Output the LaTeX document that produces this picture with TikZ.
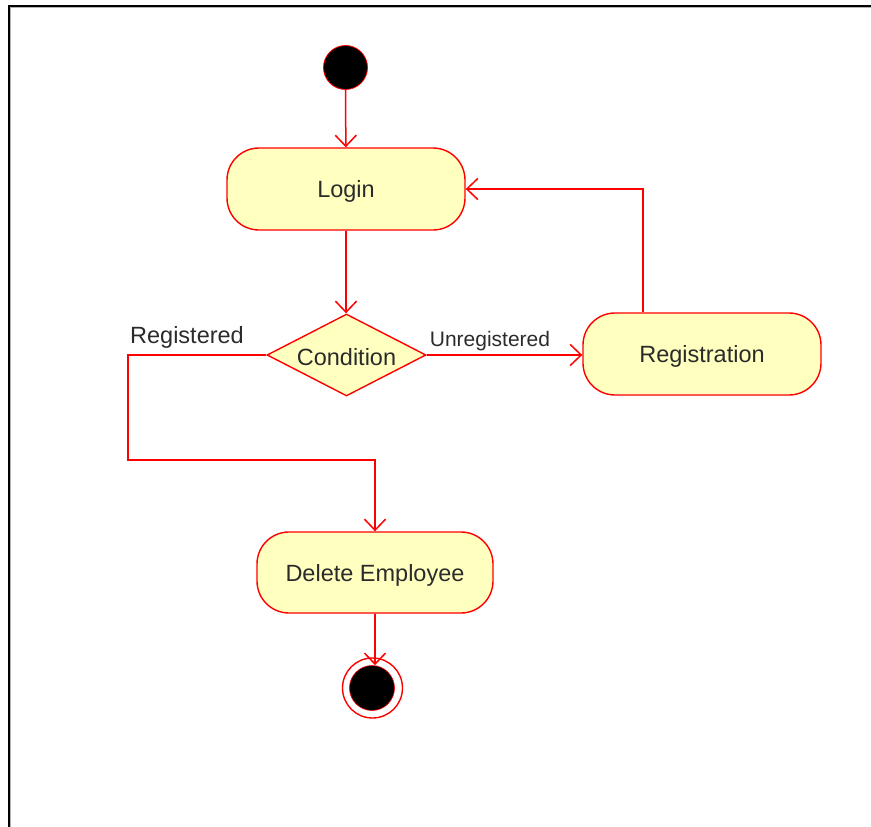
\documentclass[tikz,border=0pt]{standalone}
\usepackage{fontspec}
\setmainfont{Liberation Sans}
\usetikzlibrary{shapes.geometric,arrows.meta}
\definecolor{actfill}{HTML}{FFFFC0}
\definecolor{txt}{HTML}{2B2B2B}
% move a label down a little while keeping its box size unchanged
\newcommand{\lowered}[1]{\raisebox{-2.5pt}[\height][\depth]{#1}}
\begin{document}
\begin{tikzpicture}[x=1pt,y=-1pt,
  every node/.style={font=\fontsize{23.5}{28}\selectfont, text=txt},
  activity/.style={draw=red, fill=actfill, line width=1.4pt, rounded corners=32pt, inner sep=0pt},
  decision/.style={draw=red, fill=actfill, line width=1.4pt, diamond, aspect=1.94, inner sep=0pt,
    minimum width=159pt, minimum height=82pt},
  flow/.style={draw=red, line width=1.5pt,
    -{Straight Barb[length=11pt,width=21pt,line width=1.5pt]}},
  edgelabel/.style={inner sep=0pt}]
\useasboundingbox (0,0) rectangle (871,827);

% frame on the left and top edges
\draw[gray!60, line width=1pt] (10.5,827) -- (10.5,7.5) -- (871,7.5);
\draw[black, line width=2pt] (8.5,827) -- (8.5,5.5) -- (871,5.5);

% initial and final states
\node[circle, fill=black, draw=red, line width=0.8pt, minimum size=44pt, inner sep=0pt] (start) at (345.5,67.5) {};
\node[circle, draw=red, line width=1.4pt, minimum size=60pt, inner sep=0pt] (endout) at (372.5,688) {};
\node[circle, fill=black, draw=red, line width=0.6pt, minimum size=45pt, inner sep=0pt] (endin) at (372,688) {};

% activities
\node[activity, minimum width=238pt, minimum height=82pt] (login) at (346,189) {\lowered{Login}};
\node[decision] (cond) at (346.5,355) {\lowered{Condition}};
\node[activity, minimum width=238pt, minimum height=82pt] (reg) at (702,354) {\lowered{Registration}};
\node[activity, minimum width=236pt, minimum height=81pt] (del) at (375,572.5) {\lowered{Delete Employee}};

\coordinate (bend) at (128,460);

% transitions
\draw[flow] (start) -- (login);
\draw[flow] (login.south) -- (login.south |- cond.north);
\draw[flow] (cond.east) -- (cond.east -| reg.west);
\draw[flow] ([xshift=-59pt]reg.north) |- (login.east);
\draw[flow] (cond.west) -| (bend) -| (del.north);
\draw[flow] (del.south) -- (del.south |- endin.north);

% guard labels
\node[edgelabel] (lreg) at (187,337) {Registered};
\node[edgelabel] (lunreg) at (490,341) {\fontsize{21}{25}\selectfont Unregistered};
\end{tikzpicture}
\end{document}
